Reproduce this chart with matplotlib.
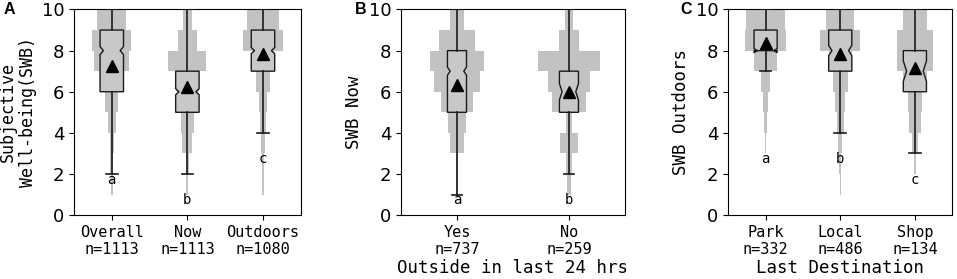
import matplotlib
matplotlib.use('Agg')
import matplotlib.pyplot as plt
import numpy as np

# half widths of the stepped histograms, bins 0-1 ... 9-10
overall_hist = [0, 0.01, 0.018, 0.027, 0.05, 0.085, 0.15, 0.23, 0.255, 0.19]
now_hist = [0, 0.012, 0.022, 0.067, 0.09, 0.14, 0.15, 0.25, 0.122, 0.06]
outdoors_hist = [0, 0.008, 0.012, 0.022, 0.036, 0.053, 0.089, 0.15, 0.267, 0.21]
yes_hist = [0, 0.005, 0.005, 0.06, 0.08, 0.14, 0.208, 0.238, 0.16, 0.064]
no_hist = [0, 0.018, 0.027, 0.083, 0.03, 0.149, 0.185, 0.275, 0.092, 0.039]
park_hist = [0, 0, 0, 0.01, 0.015, 0.029, 0.056, 0.158, 0.276, 0.26]
local_hist = [0, 0.007, 0.01, 0.027, 0.044, 0.067, 0.1, 0.155, 0.267, 0.19]
shop_hist = [0, 0, 0.015, 0.044, 0.076, 0.093, 0.16, 0.236, 0.236, 0.16]

# q1, median, q3, whisker low, whisker high, mean, notch low, notch high
overall_box = [6, 8, 9, 2, 10, 7.25, 7.8, 8.2]
now_box = [5, 6, 7, 2, 10, 6.25, 5.85, 6.15]
outdoors_box = [7, 8, 9, 4, 10, 7.85, 7.85, 8.15]
yes_box = [5, 7, 8, 1, 10, 6.35, 6.8, 7.2]
no_box = [5, 6, 7, 2, 10, 6.0, 5.6, 6.4]
park_box = [8, 8, 9, 7, 10, 8.35, 7.9, 8.1]
local_box = [7, 8, 9, 4, 10, 7.85, 7.75, 8.25]
shop_box = [6, 7, 8, 3, 10, 7.15, 6.5, 7.5]

# significance letters and their heights
a_letters = ['a', 'b', 'c']
a_letter_y = [1.72, 0.75, 2.74]
b_letters = ['a', 'b']
b_letter_y = [0.75, 0.75]
c_letters = ['a', 'b', 'c']
c_letter_y = [2.74, 2.74, 1.72]

a_labels = ['Overall\nn=1113', 'Now\nn=1113', 'Outdoors\nn=1080']
b_labels = ['Yes\nn=737', 'No\nn=259']
c_labels = ['Park\nn=332', 'Local\nn=486', 'Shop\nn=134']

MONO = 'DejaVu Sans Mono'
GRAY = '#c2c2c2'


def make_stats(b):
    return dict(q1=b[0], med=b[1], q3=b[2], whislo=b[3], whishi=b[4],
                mean=b[5], cilo=b[6], cihi=b[7], fliers=[])


def panel(ax, hists, boxes, letters, letter_y, labels, ylabel, xlabel,
          box_w, tag, tag_x):
    pos = np.arange(len(hists))
    for p, h in zip(pos, hists):
        h = np.array(h)
        ax.barh(np.arange(10), 2 * h, left=p - h, height=1, align='edge',
                color=GRAY, linewidth=0, zorder=1)
    res = ax.bxp([make_stats(b) for b in boxes], positions=pos, widths=box_w,
                 shownotches=True, showmeans=True, showfliers=False,
                 patch_artist=True,
                 boxprops=dict(facecolor='#c8c8c8', edgecolor='#1a1a1a',
                               linewidth=1),
                 whiskerprops=dict(color='#1a1a1a', linewidth=1.2),
                 capprops=dict(color='#1a1a1a', linewidth=1.2),
                 medianprops=dict(linewidth=0),
                 meanprops=dict(marker='^', markerfacecolor='black',
                                markeredgecolor='black', markersize=8),
                 zorder=3)
    # shallower notches than matplotlib's default
    for p, patch in zip(pos, res['boxes']):
        path = patch.get_path()
        v = path.vertices
        inner = np.abs(v[:, 0] - p) < box_w * 0.4
        v[inner, 0] = p + np.sign(v[inner, 0] - p) * box_w * 0.36
    for p, l, y in zip(pos, letters, letter_y):
        ax.text(p, y, l, ha='center', va='center', family=MONO, fontsize=10,
                zorder=4)
    ax.set_xlim(-0.5, len(hists) - 0.5)
    ax.set_ylim(0, 10)
    ax.set_yticks([0, 2, 4, 6, 8, 10])
    ax.set_xticks(pos)
    ax.set_xticklabels(labels, family=MONO, fontsize=11, linespacing=1.15)
    ax.tick_params(axis='y', labelsize=13)
    ax.set_ylabel(ylabel, family=MONO, fontsize=12.5, linespacing=1.1)
    if xlabel:
        ax.set_xlabel(xlabel, family=MONO, fontsize=12.5, labelpad=2)
    ax.text(tag_x, 1.0, tag, transform=ax.transAxes, fontsize=11.5,
            fontweight='bold', family='Liberation Sans', va='center')


fig = plt.figure(figsize=(9.57, 2.79), dpi=100)
ax_a = fig.add_axes([0.0773, 0.229, 0.237, 0.737])
ax_b = fig.add_axes([0.419, 0.229, 0.234, 0.737])
ax_c = fig.add_axes([0.761, 0.229, 0.234, 0.737])

panel(ax_a, [overall_hist, now_hist, outdoors_hist],
      [overall_box, now_box, outdoors_box], a_letters, a_letter_y, a_labels,
      'Subjective\nWell-being(SWB)', None, 0.31, 'A', -0.31)
ax_a.yaxis.label.set_fontsize(12)
ax_a.yaxis.set_label_coords(-0.165, 0.5)
panel(ax_b, [yes_hist, no_hist], [yes_box, no_box], b_letters, b_letter_y,
      b_labels, 'SWB Now', 'Outside in last 24 hrs', 0.17, 'B', -0.205)
panel(ax_c, [park_hist, local_hist, shop_hist], [park_box, local_box, shop_box],
      c_letters, c_letter_y, c_labels, 'SWB Outdoors', 'Last Destination',
      0.31, 'C', -0.215)

fig.savefig('out.png', dpi=100)
